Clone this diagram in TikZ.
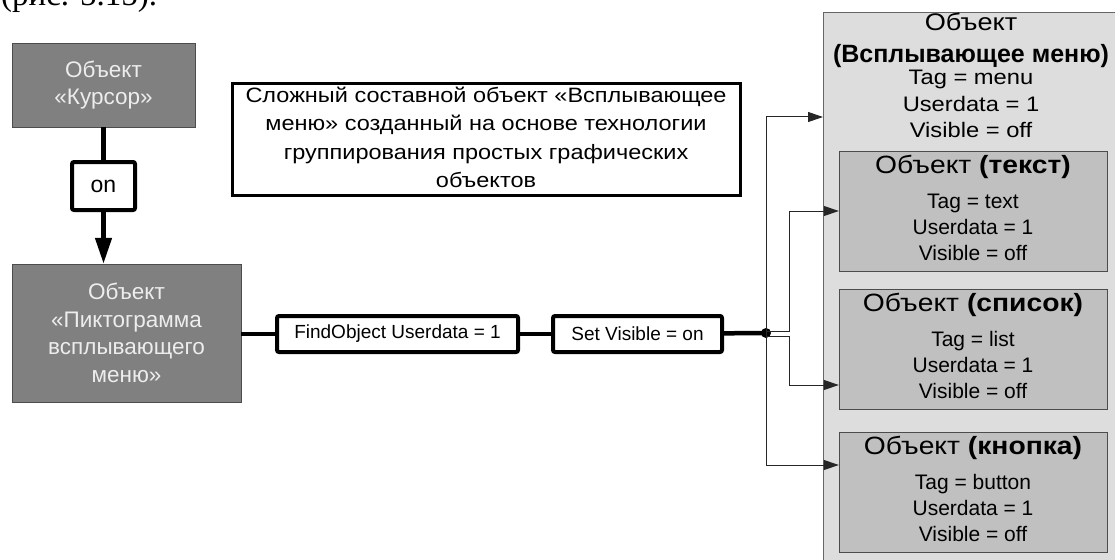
\documentclass[tikz,border=0pt]{standalone}
\usepackage{fontspec}
\setmainfont{Liberation Sans}
\newfontfamily\widesans{Liberation Sans}[FakeStretch=1.13]
\newfontfamily\pageserif{Liberation Serif}
\usetikzlibrary{arrows.meta}
\definecolor{objdark}{HTML}{808080}
\definecolor{objmid}{HTML}{C0C0C0}
\definecolor{objlight}{HTML}{DDDDDD}
\newcommand{\fsz}[2]{\fontsize{#1}{#2}\selectfont}

\begin{document}
\begin{tikzpicture}[
  x=1pt, y=-1pt,
  darkbox/.style={draw=black!70, fill=objdark, text=white!93!black,
    inner sep=0pt, align=center, font=\fsz{22.5}{27.5}},
  cmdbox/.style={draw, line width=4pt, rounded corners=2pt, fill=white,
    inner sep=0pt, font=\fsz{19}{22}},
  subobj/.style={draw=black!70, fill=objmid, inner sep=0pt,
    minimum width=268pt, minimum height=120pt},
  thicklink/.style={line width=4.5pt},
  conn/.style={line width=1pt, draw=black!85,
    -{Triangle[length=15pt,width=10pt]}}
]
  \useasboundingbox (0,0) rectangle (1115,559);

  % text of the page above the figure
  \node[anchor=base west, inner sep=0pt, font=\pageserif\fsz{33}{36}]
    (figref) at (1,6) {(рис. 5.15).};

  % left column
  \node[darkbox, minimum width=183pt, minimum height=84pt]
    (cursor) at (103.5,85) {Объект\\«Курсор»};
  \node[cmdbox, minimum width=63pt, minimum height=48pt, font=\fsz{23}{26}]
    (on) at (103.5,186) {on};
  \node[darkbox, minimum width=229pt, minimum height=138pt]
    (icon) at (126.5,333) {Объект\\«Пиктограмма\\всплывающего\\меню»};

  \draw[thicklink] (cursor) -- (on);
  \draw[thicklink, -{Triangle[length=26pt,width=16pt]}] (on) -- (on |- icon.north);

  % note
  \node[draw, line width=3pt, fill=white, inner sep=0pt,
    minimum width=508pt, minimum height=111pt,
    align=center, font=\widesans\fsz{20.8}{28.3}]
    (note) at (486,139.5) {Сложный составной объект «Всплывающее\\
      меню» созданный на основе технологии\\
      группирования простых графических\\объектов\\[-24pt]};

  % commands
  \node[cmdbox, minimum width=241pt, minimum height=36pt]
    (find) at (397.5,334) {FindObject Userdata = 1};
  \node[cmdbox, minimum width=169pt, minimum height=36pt]
    (setvis) at (637.5,334) {Set Visible = on};
  \coordinate (jn) at (766,333);

  \draw[thicklink] (icon.east |- find) -- (find);
  \draw[thicklink] (find) -- (setvis);
  \draw[thicklink] (setvis) -- (jn);
  \fill (jn) circle (5pt);

  % popup menu and its parts
  \node[draw=black!60, fill=objlight, inner sep=0pt, anchor=north west,
    minimum width=300pt, minimum height=570pt]
    (menu) at (823,12) {};
  \node[anchor=north, align=center, inner sep=0pt, font=\widesans\fsz{21}{26.5}]
    (menulbl) at (971,13)
    {{\fsz{24}{36}Объект}\\[5pt]
     {\normalfont\fsz{25}{20}\bfseries (Всплывающее меню)}\\[-4pt]
     Tag = menu\\Userdata = 1\\Visible = off};

  \node[subobj] (textobj) at (973,211) {};
  \node[subobj] (listobj) at (973,349) {};
  \node[subobj] (btnobj) at (973,492) {};

  \foreach \obj/\kind/\tag in {textobj/текст/text, listobj/список/list,
                               btnobj/кнопка/button}
    \node[anchor=north, align=center, inner sep=0pt, font=\fsz{21}{26}]
      at ([yshift=-4pt]\obj.north)
      {{\widesans\fsz{25}{34}Объект \textbf{(\kind)}}\\[9pt]
       Tag = \tag\\Userdata = 1\\Visible = off};

  \draw[conn] (jn) |- ([yshift=-105pt]menu.north west);
  \draw[conn] (jn) |- ([yshift=27pt]btnobj.west);
  \draw[conn] ([yshift=2pt]jn) -- ++(23,0) |- (textobj.west);
  \draw[conn] ([yshift=-3pt]jn) -- ++(23,0) |- ([yshift=-36pt]listobj.west);
\end{tikzpicture}
\end{document}
